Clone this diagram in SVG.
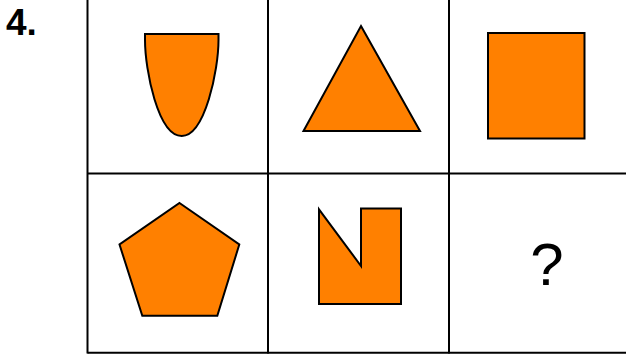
<svg xmlns="http://www.w3.org/2000/svg" width="626" height="358" viewBox="0 0 626 358">
<style>
.shape{fill:#ff8000;stroke:#000;stroke-width:2;stroke-linejoin:miter}
.grid{stroke:#000;stroke-width:2;fill:none}
.lbl{font-family:"Liberation Sans",Arial,sans-serif;fill:#000}
</style>
<rect width="626" height="358" fill="#fff"/>
<g id="grid" class="grid">
<line x1="87.5" y1="0" x2="87.5" y2="353.5"/>
<line x1="268" y1="0" x2="268" y2="353.5"/>
<line x1="449" y1="0" x2="449" y2="353.5"/>
<line x1="87.5" y1="173.5" x2="626" y2="173.5"/>
<line x1="87.5" y1="352.7" x2="626" y2="352.7"/>
</g>
<text id="number" class="lbl" x="6" y="34.5" font-size="37" font-weight="bold">4.</text>
<g id="parabola"><path class="shape" d="M145,34 L218.5,34 L218.5,40 C218.5,70 205,136 181.7,136 C158,136 145,70 145,40 Z"/></g>
<g id="triangle"><polygon class="shape" points="361,26 420,131 303.5,131"/></g>
<g id="square"><rect class="shape" x="488" y="33" width="96.5" height="105.5"/></g>
<g id="pentagon"><polygon class="shape" points="179.5,203 239.3,244.5 217.3,315.7 142.3,315.7 119.5,244.5"/></g>
<g id="nshape"><polygon class="shape" points="319,209.3 361,266 361,208.5 401,208.5 401,304 319,304"/></g>
<text id="question" class="lbl" x="547" y="285" font-size="60" text-anchor="middle">?</text>
</svg>
